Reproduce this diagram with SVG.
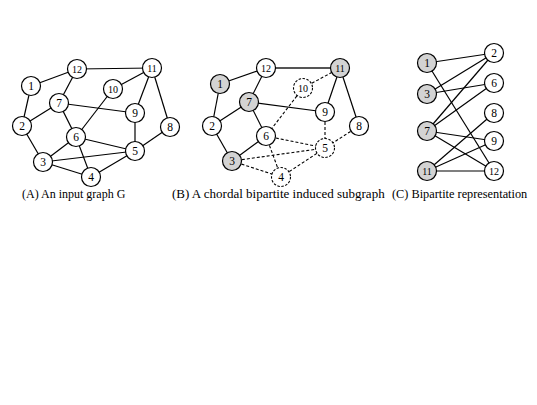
<svg xmlns="http://www.w3.org/2000/svg" width="537" height="405" viewBox="0 0 537 405">
<defs>
<style>
.e{stroke:#000;stroke-width:1.2;fill:none}
.d{stroke:#000;stroke-width:1.1;fill:none;stroke-dasharray:3,2}
.g{stroke:#555;stroke-width:2;fill:none}
.n circle{fill:#fff;stroke:#000;stroke-width:1.2}
.s circle{fill:#d3d3d3;stroke:#000;stroke-width:1.2}
.x circle{fill:#fff;stroke:#000;stroke-width:1.1;stroke-dasharray:2.5,1.5}
text{font-family:"Liberation Serif","Times New Roman",serif;fill:#000}
.l{font-size:11.5px;text-anchor:middle;dominant-baseline:central}
.t{font-size:10px}
.c{font-size:12px}
</style>
</defs>
<rect width="537" height="405" fill="#fff"/>
<g id="connectors">
<g id="edges-A">
<line class="e" x1="77" y1="69" x2="152" y2="68"/>
<line class="e" x1="77" y1="69" x2="31" y2="86"/>
<line class="e" x1="77" y1="69" x2="59" y2="103"/>
<line class="e" x1="31" y1="86" x2="22" y2="126"/>
<line class="e" x1="22" y1="126" x2="59" y2="103"/>
<line class="e" x1="22" y1="126" x2="43" y2="162"/>
<line class="e" x1="59" y1="103" x2="135" y2="113"/>
<line class="e" x1="59" y1="103" x2="76" y2="137"/>
<line class="e" x1="113" y1="89" x2="152" y2="68"/>
<line class="e" x1="113" y1="89" x2="76" y2="137"/>
<line class="e" x1="152" y1="68" x2="135" y2="113"/>
<line class="e" x1="152" y1="68" x2="170" y2="127"/>
<line class="e" x1="135" y1="113" x2="135" y2="151"/>
<line class="e" x1="170" y1="127" x2="135" y2="151"/>
<line class="e" x1="76" y1="137" x2="135" y2="151"/>
<line class="e" x1="76" y1="137" x2="43" y2="162"/>
<line class="e" x1="76" y1="137" x2="91" y2="177"/>
<line class="e" x1="43" y1="162" x2="135" y2="151"/>
<line class="e" x1="43" y1="162" x2="91" y2="177"/>
<line class="e" x1="91" y1="177" x2="135" y2="151"/>
</g>
<g id="edges-B">
<line class="g" x1="266" y1="68" x2="340" y2="68"/>
<line class="e" x1="266" y1="68" x2="220" y2="84"/>
<line class="e" x1="266" y1="68" x2="249" y2="102"/>
<line class="e" x1="220" y1="84" x2="212" y2="126"/>
<line class="e" x1="212" y1="126" x2="249" y2="102"/>
<line class="e" x1="212" y1="126" x2="232" y2="161"/>
<line class="e" x1="249" y1="102" x2="325" y2="112"/>
<line class="e" x1="249" y1="102" x2="266" y2="136"/>
<line class="e" x1="266" y1="136" x2="232" y2="161"/>
<line class="e" x1="340" y1="68" x2="325" y2="112"/>
<line class="e" x1="340" y1="68" x2="359" y2="126"/>
<line class="d" x1="303" y1="88" x2="340" y2="68"/>
<line class="d" x1="303" y1="88" x2="266" y2="136"/>
<line class="d" x1="325" y1="112" x2="325" y2="148"/>
<line class="d" x1="359" y1="126" x2="325" y2="148"/>
<line class="d" x1="266" y1="136" x2="325" y2="148"/>
<line class="d" x1="266" y1="136" x2="281" y2="177"/>
<line class="d" x1="232" y1="161" x2="325" y2="148"/>
<line class="d" x1="232" y1="161" x2="281" y2="177"/>
<line class="d" x1="281" y1="177" x2="325" y2="148"/>
</g>
<g id="edges-C">
<line class="e" x1="427" y1="63" x2="494" y2="53"/>
<line class="e" x1="427" y1="63" x2="494" y2="171"/>
<line class="e" x1="427" y1="94" x2="494" y2="53"/>
<line class="e" x1="427" y1="94" x2="494" y2="83"/>
<line class="e" x1="427" y1="131" x2="494" y2="53"/>
<line class="e" x1="427" y1="131" x2="494" y2="83"/>
<line class="e" x1="427" y1="131" x2="494" y2="141"/>
<line class="e" x1="427" y1="131" x2="494" y2="171"/>
<line class="e" x1="427" y1="171" x2="494" y2="113"/>
<line class="e" x1="427" y1="171" x2="494" y2="141"/>
<line class="e" x1="427" y1="171" x2="494" y2="171"/>
</g>
</g>
<g id="panel-A">
<g id="A1" class="n"><circle cx="31" cy="86" r="9.5"/><text class="l" x="31" y="86">1</text></g>
<g id="A2" class="n"><circle cx="22" cy="126" r="9.5"/><text class="l" x="22" y="126">2</text></g>
<g id="A3" class="n"><circle cx="43" cy="162" r="9.5"/><text class="l" x="43" y="162">3</text></g>
<g id="A4" class="n"><circle cx="91" cy="177" r="9.5"/><text class="l" x="91" y="177">4</text></g>
<g id="A5" class="n"><circle cx="135" cy="151" r="9.5"/><text class="l" x="135" y="151">5</text></g>
<g id="A6" class="n"><circle cx="76" cy="137" r="9.5"/><text class="l" x="76" y="137">6</text></g>
<g id="A7" class="n"><circle cx="59" cy="103" r="9.5"/><text class="l" x="59" y="103">7</text></g>
<g id="A8" class="n"><circle cx="170" cy="127" r="9.5"/><text class="l" x="170" y="127">8</text></g>
<g id="A9" class="n"><circle cx="135" cy="113" r="9.5"/><text class="l" x="135" y="113">9</text></g>
<g id="A10" class="n"><circle cx="113" cy="89" r="9.5"/><text class="l t" x="113" y="89">10</text></g>
<g id="A11" class="n"><circle cx="152" cy="68" r="9.5"/><text class="l t" x="152" y="68">11</text></g>
<g id="A12" class="n"><circle cx="77" cy="69" r="9.5"/><text class="l t" x="77" y="69">12</text></g>
<text class="c" x="22" y="198">(A) An input graph G</text>
</g>
<g id="panel-B">
<g id="B1" class="s"><circle cx="220" cy="84" r="9.5"/><text class="l" x="220" y="84">1</text></g>
<g id="B2" class="n"><circle cx="212" cy="126" r="9.5"/><text class="l" x="212" y="126">2</text></g>
<g id="B3" class="s"><circle cx="232" cy="161" r="9.5"/><text class="l" x="232" y="161">3</text></g>
<g id="B4" class="x"><circle cx="281" cy="177" r="9.5"/><text class="l" x="281" y="177">4</text></g>
<g id="B5" class="x"><circle cx="325" cy="148" r="9.5"/><text class="l" x="325" y="148">5</text></g>
<g id="B6" class="n"><circle cx="266" cy="136" r="9.5"/><text class="l" x="266" y="136">6</text></g>
<g id="B7" class="s"><circle cx="249" cy="102" r="9.5"/><text class="l" x="249" y="102">7</text></g>
<g id="B8" class="n"><circle cx="359" cy="126" r="9.5"/><text class="l" x="359" y="126">8</text></g>
<g id="B9" class="n"><circle cx="325" cy="112" r="9.5"/><text class="l" x="325" y="112">9</text></g>
<g id="B10" class="x"><circle cx="303" cy="88" r="9.5"/><text class="l t" x="303" y="88">10</text></g>
<g id="B11" class="s"><circle cx="340" cy="68" r="9.5"/><text class="l t" x="340" y="68">11</text></g>
<g id="B12" class="n"><circle cx="266" cy="68" r="9.5"/><text class="l t" x="266" y="68">12</text></g>
<text class="c" x="172" y="198" style="font-size:13px">(B) A chordal bipartite induced subgraph</text>
</g>
<g id="panel-C">
<g id="C1" class="s"><circle cx="427" cy="63" r="9.5"/><text class="l" x="427" y="63">1</text></g>
<g id="C3" class="s"><circle cx="427" cy="94" r="9.5"/><text class="l" x="427" y="94">3</text></g>
<g id="C7" class="s"><circle cx="427" cy="131" r="9.5"/><text class="l" x="427" y="131">7</text></g>
<g id="C11" class="s"><circle cx="427" cy="171" r="9.5"/><text class="l t" x="427" y="171">11</text></g>
<g id="C2" class="n"><circle cx="494" cy="53" r="9.5"/><text class="l" x="494" y="53">2</text></g>
<g id="C6" class="n"><circle cx="494" cy="83" r="9.5"/><text class="l" x="494" y="83">6</text></g>
<g id="C8" class="n"><circle cx="494" cy="113" r="9.5"/><text class="l" x="494" y="113">8</text></g>
<g id="C9" class="n"><circle cx="494" cy="141" r="9.5"/><text class="l" x="494" y="141">9</text></g>
<g id="C12" class="n"><circle cx="494" cy="171" r="9.5"/><text class="l t" x="494" y="171">12</text></g>
<text class="c" x="392" y="198" style="font-size:12.3px">(C) Bipartite representation</text>
</g>
</svg>
